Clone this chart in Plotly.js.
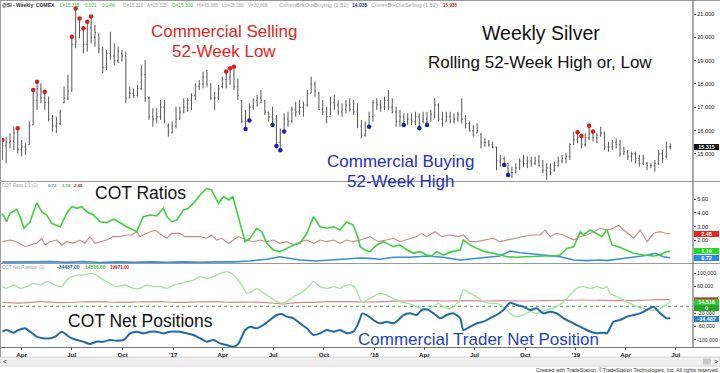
<!DOCTYPE html>
<html><head><meta charset="utf-8">
<script src="https://cdn.plot.ly/plotly-3.0.1.min.js"></script>
<style>html,body{margin:0;padding:0;background:#fff}#chart{width:720px;height:373px}</style>
</head><body><div id="chart"></div>
<script>
// ---------- DATA ----------
const startWeek = [2016, 1, 26]; // first weekly bar (Fri 26 Feb 2016)

const barHigh = [
15.60,15.74,15.89,16.17,16.10,15.60,15.46,16.39,17.74,18.10,
18.03,17.67,17.46,16.67,16.60,16.89,17.89,18.39,20.03,21.24,
20.81,20.39,20.67,20.89,20.53,20.17,19.60,19.46,20.24,19.74,
19.60,19.46,19.39,17.89,17.81,17.96,18.81,19.03,17.46,16.96,
16.96,17.31,17.31,16.31,16.39,17.03,17.03,17.39,17.39,17.60,
18.03,18.17,18.53,18.60,18.03,17.67,17.96,18.31,18.53,18.67,
18.74,18.24,17.31,16.89,17.17,17.39,17.53,17.74,17.31,16.81,
17.03,16.67,16.10,16.74,16.81,17.03,17.24,17.31,17.24,17.74,
18.31,18.10,17.67,17.31,17.03,17.46,17.53,17.31,17.17,17.31,
17.39,17.31,17.17,16.46,16.39,16.81,17.31,17.39,17.31,17.46,
17.74,17.39,17.03,16.89,16.74,16.74,16.74,16.81,16.74,16.81,
16.81,16.89,17.39,17.17,16.81,16.81,16.81,16.74,16.81,17.39,
16.67,16.39,16.24,16.31,15.89,15.67,15.60,15.53,15.31,14.96,
14.89,14.60,14.46,14.60,14.81,14.96,14.89,14.89,14.89,14.96,
14.74,14.60,14.60,14.67,14.89,14.96,15.03,15.46,15.96,15.93,
15.77,15.89,16.21,15.96,15.89,16.17,15.96,15.53,15.60,15.67,
15.60,15.31,15.17,15.10,15.10,14.96,14.96,14.67,14.60,14.74,
15.17,15.17,15.53,15.45];
const barLow = [
14.74,14.60,15.24,15.17,15.03,14.89,14.96,15.39,16.24,16.89,
17.17,16.89,16.39,15.96,15.89,16.24,17.17,17.31,17.67,19.53,
19.96,19.31,19.39,19.74,19.60,19.31,18.46,18.60,19.03,18.81,
18.89,18.96,17.17,17.39,17.39,17.46,17.74,17.24,16.46,16.17,
16.31,16.46,16.31,15.74,15.89,16.10,16.46,16.74,16.81,16.89,
17.31,17.74,17.81,17.89,17.31,16.89,17.31,17.81,17.81,17.96,
17.74,17.31,16.31,16.07,16.43,16.89,17.03,17.17,16.67,16.39,
16.24,15.34,15.16,15.96,16.17,16.31,16.60,16.67,16.60,17.03,
17.60,17.46,16.89,16.67,16.31,16.67,16.89,16.67,16.60,16.74,
16.81,16.67,16.10,15.67,15.74,16.17,16.39,16.89,16.81,16.89,
16.89,16.74,16.17,16.17,16.24,16.24,16.24,16.24,16.10,16.31,
16.24,16.39,16.53,16.39,16.17,16.39,16.31,16.31,16.39,16.31,
16.10,15.96,15.74,15.89,15.24,15.31,15.31,15.24,14.31,14.46,
14.53,14.10,13.96,14.17,14.31,14.46,14.39,14.46,14.53,14.46,
14.17,13.89,14.10,14.24,14.46,14.60,14.60,14.74,15.39,15.46,
15.24,15.31,15.60,15.53,15.46,15.74,15.17,15.10,15.17,15.24,
14.89,14.96,14.74,14.67,14.60,14.46,14.53,14.31,14.39,14.24,
14.53,14.60,14.81,15.20];
const barOpen = [
14.90,15.35,15.50,15.55,15.90,15.20,15.30,15.40,16.25,17.30,
17.80,17.40,17.20,16.50,16.20,16.30,17.20,17.40,17.70,19.70,
20.00,20.30,19.70,20.40,20.00,20.10,19.50,18.70,19.30,19.20,
19.00,19.30,19.20,17.40,17.60,17.50,17.80,18.40,17.40,16.60,
16.50,16.60,17.00,16.20,15.90,16.20,16.50,16.80,17.00,17.30,
17.50,17.90,18.00,18.30,18.00,17.40,17.40,17.90,18.20,18.30,
18.40,17.90,17.30,16.40,16.50,17.00,17.30,17.40,17.30,16.80,
16.60,16.50,15.50,16.00,16.50,16.40,16.90,16.80,17.00,17.10,
17.60,18.00,17.60,16.90,16.80,16.60,17.20,17.10,16.80,16.90,
17.10,16.90,16.80,16.20,15.80,16.20,16.60,17.20,17.10,17.00,
17.30,17.00,16.80,16.40,16.60,16.40,16.50,16.40,16.60,16.40,
16.50,16.40,16.70,17.10,16.50,16.40,16.60,16.40,16.50,16.70,
16.50,16.30,16.00,15.90,15.85,15.50,15.50,15.40,15.30,14.70,
14.80,14.60,14.20,14.20,14.40,14.70,14.60,14.70,14.60,14.70,
14.50,14.30,14.40,14.30,14.50,14.70,14.80,14.90,15.40,15.60,
15.70,15.40,15.70,15.90,15.70,15.80,15.90,15.30,15.30,15.50,
15.40,15.00,15.10,14.90,15.00,14.80,14.60,14.60,14.50,14.50,
14.60,15.00,14.90,15.31];
const barClose = [
15.35,15.50,15.55,15.90,15.20,15.30,15.20,16.20,17.30,17.80,
17.40,17.20,16.50,16.20,16.30,16.80,17.40,17.70,19.70,19.80,
20.30,19.70,20.40,20.00,20.20,19.50,18.70,19.30,19.20,19.00,
19.40,19.20,17.40,17.60,17.50,17.80,18.40,17.40,16.60,16.50,
16.60,17.00,16.40,15.90,16.20,16.50,16.80,17.00,17.30,17.50,
17.90,18.00,18.30,18.00,17.40,17.40,17.80,18.20,18.40,18.50,
17.90,17.50,16.40,16.40,17.00,17.30,17.40,17.30,16.80,16.60,
16.50,15.50,15.90,16.50,16.40,16.90,16.80,17.00,17.10,17.60,
18.00,17.70,16.90,16.80,16.60,17.20,17.10,16.80,16.90,17.10,
16.90,16.80,16.20,15.80,16.00,16.60,17.20,17.10,17.00,17.30,
17.00,16.80,16.40,16.60,16.40,16.50,16.40,16.60,16.30,16.50,
16.40,16.70,17.10,16.50,16.30,16.60,16.40,16.50,16.70,16.50,
16.30,16.00,15.80,16.00,15.50,15.50,15.40,15.30,14.70,14.80,
14.60,14.20,14.20,14.40,14.70,14.60,14.70,14.60,14.70,14.50,
14.30,14.40,14.20,14.50,14.70,14.80,14.90,15.40,15.60,15.70,
15.40,15.70,15.90,15.70,15.80,15.90,15.30,15.30,15.50,15.40,
15.00,15.10,14.90,15.00,14.80,14.60,14.80,14.50,14.50,14.60,
15.00,14.80,15.30,15.315];

// bars flagged by the breakout studies
const sellingLowIdx = [0,4,8,9,11,18,19,20,21,22,23,58,59,60,149,150,152,153];
const buyingHighIdx = [63,64,70,71,72,73,95,104,108,110,130,131];

// COT ratio lines (x = week number from first bar)
const ratioGreenWk = [0,1.1,2,3.7,4.6,5.6,7.2,8.9,10.2,11.5,12.8,13.7,15,16.7,18,19.3,20.6,21.9,23.6,25.3,27,28.8,30.1,32.2,33.9,34.8,36.5,38.3,40,41.7,42.6,43.9,45.2,46.9,48.2,49.9,51.2,52.9,54.2,56,57.3,58.6,59.7,61.2,62.9,64.2,65.9,67.2,68.5,70.2,71.9,73.7,75.4,77.1,78.9,80.6,82.3,84,85.8,87.5,89.2,90.9,92.2,92.7,93.9,95.2,97,98.7,100.4,101.3,103,104.8,106.5,108.2,109.9,111.2,112.5,114.3,116.4,118.6,119.4,121.2,122.9,125,127.2,128.9,130.7,133.2,135.8,137.6,140.1,142.7,144.5,146.2,148,149.7,150.5,152.3,154,155.3,156.6,157.9,159.6,161.8,163.5,166.1,168.7,170.4,172.1,173];
const ratioGreen = [3.98,3.36,3.98,4.27,3.73,2.88,3.36,4.75,4.09,3.85,3.24,3.12,2.99,3.98,4.46,4.34,4.46,4.09,3.85,3.36,3.29,3.54,3.36,2.99,2.75,2.63,3.73,3.85,3.78,4.34,3.73,3.36,3.48,4.22,4.34,4.83,5.31,5.80,5.68,4.71,5.19,4.95,5.19,3.61,1.90,2.15,2.88,2.63,1.78,1.29,1.17,1.41,1.66,1.78,2.51,3.73,2.99,2.88,2.99,2.75,3.36,3.12,2.15,1.53,1.29,1.17,1.66,1.90,1.66,1.53,1.66,1.29,1.05,1.17,0.92,0.85,1.17,0.92,1.17,1.29,2.02,1.66,1.41,1.17,1.05,0.92,0.80,0.76,0.80,0.85,0.85,0.85,0.92,1.41,1.53,2.63,2.39,2.75,2.51,2.27,2.80,1.66,1.53,1.29,1.05,0.92,0.85,0.92,1.17,1.19];
const ratioPinkWk = [0,2,3.7,5.9,7.2,8.9,10.2,11.1,12.4,14.1,15.4,16.7,18.4,20.1,21.4,22.7,24,25.3,27,28.8,30.5,32.2,33.5,34.8,35.7,37.4,39.6,41.3,42.6,43.9,46,47.3,49.1,51.2,52.9,54.2,55.5,56.8,58.6,59.9,61.2,63.3,65,66.8,68.5,70.2,71.9,73.7,75.4,77.1,78.9,80.6,82.3,84,85.8,87.5,89.2,90.9,92.7,95.2,97.4,99.5,101.3,103,105.6,107.3,108.6,109.9,112.1,113.8,115.9,118.1,119.4,121.2,122.9,125.5,127.2,128.9,130.7,133.2,135,136.7,139.3,140.6,141.9,143.6,145.4,148,149.7,151.4,153.1,154.9,156.6,158.3,159.6,160.9,162.6,163.5,165.2,167,168.7,170.4,171.7,173];
const ratioPink = [1.90,2.02,1.90,1.53,1.66,1.78,2.15,1.66,1.90,2.02,1.66,1.90,1.78,2.02,1.78,2.27,1.78,1.90,2.02,2.27,2.27,2.39,2.39,2.63,2.27,2.51,2.75,2.39,2.15,2.51,2.51,2.27,2.27,2.27,2.15,2.39,2.02,2.15,1.78,2.02,2.27,2.02,1.90,2.02,1.90,2.02,1.78,1.90,1.66,1.90,2.02,1.78,2.02,1.90,2.02,1.78,2.02,1.90,2.02,2.27,1.90,2.02,2.15,1.90,2.15,2.27,2.51,2.27,2.63,2.27,2.39,2.27,2.39,1.90,1.90,2.02,2.15,1.90,2.02,2.15,2.27,2.39,2.39,2.75,2.27,2.51,2.39,2.02,2.27,2.39,2.63,2.88,2.75,2.88,3.12,2.75,2.39,2.15,2.75,1.90,2.51,2.63,2.51,2.48];
const ratioBlueWk = [0,4.6,8,12.4,16.7,21,25.3,29.6,33.9,38.3,42.6,46.9,51.2,55.5,59.9,64.2,68.5,71.9,74.5,77.1,81.4,85.8,90.1,92.7,95.2,97.8,101.3,105.6,109.9,114.2,118.6,122.9,127.2,128.9,131.5,134.1,137.6,141,144.5,148,151.4,154.9,156.6,159.2,161.8,164.3,166.9,169.1,171.2,173];
const ratioBlue = [0.40,0.44,0.42,0.44,0.39,0.44,0.38,0.42,0.39,0.42,0.39,0.42,0.39,0.42,0.42,0.49,0.61,0.80,0.68,0.56,0.49,0.56,0.61,0.70,0.68,0.61,0.76,0.76,0.85,0.76,0.56,0.68,0.76,0.85,1.22,1.09,1.00,0.90,0.80,0.56,0.51,0.56,0.51,0.61,0.68,0.80,0.90,1.05,0.80,0.72];

// COT net position lines
const netGreenWk = [0,1.1,2.9,4.6,6.3,8,9.8,11.5,13.7,15.4,16.7,18,19.3,21,22.7,24.4,26.2,27.9,29.6,31.8,33.9,35.7,37.4,39.1,40.9,42.6,44.3,46,47.8,49.5,51.2,52.9,54.7,56.4,58.1,59.4,60.7,62,63.3,64.6,65.9,67.2,68.5,69.8,71.1,72.4,73.7,75.4,77.1,78.9,80.6,82.3,84,85.8,87.5,89.2,90.5,91.8,92.7,93.5,94.4,96.1,97.8,99.6,101.3,103,104.8,106.5,108.2,109.9,111.7,113,114.2,116,117.7,118.6,119.4,121.2,122.9,124.6,126.3,128,129.8,131.5,133.2,134.9,136.7,138.4,141,143.6,145.4,147.1,148.8,150.5,152.3,154,155.7,156.6,157.4,159.2,160.9,162.6,164.3,166.1,167.8,169.5,171.2,172.5,173];
const netGreen = [59000,54000,64000,54000,59000,69000,64000,74000,64000,59000,79000,89000,94000,94000,99000,94000,79000,69000,59000,64000,54000,54000,64000,59000,59000,54000,64000,69000,74000,79000,89000,84000,89000,99000,104000,99000,84000,64000,39000,44000,54000,44000,34000,24000,14000,9000,14000,29000,39000,54000,74000,59000,54000,59000,54000,64000,64000,49000,20000,12000,19000,29000,39000,34000,24000,14000,9000,4000,-6000,-11000,-1000,9000,-1000,-6000,9000,24000,49000,39000,29000,14000,9000,9000,-1000,-21000,-31000,-26000,-16000,-21000,-11000,-1000,14000,34000,54000,59000,54000,59000,54000,59000,39000,29000,19000,9000,-1000,-6000,-11000,-11000,-1000,9000,14516];
const netPinkWk = [0,5,10,15,20,25,30,35,40,45,50,55,60,65,70,73,76,80,85,90,95,100,105,110,115,120,125,130,135,140,145,150,155,160,165,170,173];
const netPink = [12000,10000,14000,11000,13000,14000,12000,13000,14000,12000,13000,14000,12000,13000,10000,7000,11000,12000,14000,14000,13000,15000,16000,17000,16000,17000,16000,17000,16000,17000,18000,19000,18000,17000,18000,20000,19971];
const netBlueWk = [0,1.1,2.9,4.2,5.9,7.2,8.9,10.6,12.4,13.7,15.4,17.5,19.3,21,22.7,24.4,26.2,27.9,29.6,31.4,33.1,34.8,36.5,38.3,40,41.7,43.4,46,47.8,49.5,51.2,52.9,54.7,56.4,58.1,59.9,61.2,62.9,64.2,65.9,67.6,69.3,71.1,72.4,73.7,75.4,77.1,78.9,80.6,82.3,84,85.8,87.5,89.2,90.9,92.2,92.7,93.2,94.4,96.1,97.8,99.6,101.3,102.6,103.9,105.6,107.3,108.6,109.9,111.7,113.4,115.1,116.8,118.6,119.4,121.2,122.9,124.6,126.3,128,129.8,131.5,133.2,134.9,136.7,138.4,140.1,141.9,143.6,145.4,147.1,148.8,150.5,152.3,154,155.7,156.6,158.3,160,161.8,163.5,165.2,166.9,168.7,170.4,172.1,173];
const netBlue = [-76000,-71000,-79000,-71000,-66000,-76000,-91000,-96000,-96000,-91000,-76000,-93000,-101000,-106000,-113000,-106000,-106000,-101000,-103000,-101000,-81000,-76000,-81000,-76000,-76000,-81000,-76000,-76000,-81000,-86000,-96000,-106000,-101000,-111000,-116000,-121000,-111000,-71000,-61000,-66000,-56000,-41000,-26000,-23000,-31000,-36000,-51000,-66000,-86000,-81000,-71000,-76000,-71000,-81000,-76000,-51000,-35000,-22000,-26000,-41000,-51000,-46000,-51000,-41000,-26000,-21000,-26000,-11000,-9000,-21000,-36000,-26000,-21000,-36000,-71000,-61000,-51000,-46000,-36000,-26000,-11000,11000,4000,-1000,-11000,-6000,-21000,-16000,-21000,-36000,-46000,-56000,-66000,-76000,-81000,-79000,-81000,-46000,-41000,-31000,-26000,-21000,-11000,-1000,-21000,-36000,-34487];

// axis tick labels
const xTickVals = ['2016-04-01','2016-07-01','2016-10-01','2017-01-01','2017-04-01','2017-07-01','2017-10-01','2018-01-01','2018-04-01','2018-07-01','2018-10-01','2019-01-01','2019-04-01','2019-07-01'];
const xTickText = ['Apr','Jul','Oct',"'17",'Apr','Jul','Oct',"'18",'Apr','Jul','Oct',"'19",'Apr','Jul'];
const priceTicks = [15,16,17,18,19,20,21];
const ratioTicks = [2,3,4,5];
const netTicks = [100000,60000,-20000,-60000,-100000];
const netTickText = ['100,000','60,000','-20,000','-60,000','-100,000'];

// last values shown on the right scale
const lastPrice = 15.315, lastPriceText = '15.315';
const lastRatios = [[2.48,'2.48','#e42323'],[1.19,'1.19','#25d825'],[0.72,'0.72','#2a8ae0']];
const lastNetGreen = [14516, '14,516'], lastNetZero = [0, '0'], lastNetBlue = [-34487, '-34,487'], lastNetPink = 19971;

// ---------- helpers ----------
const DAY = 86400000;
const T0 = Date.UTC(startWeek[0], startWeek[1], startWeek[2]);
function wkDate(w){
  const d = new Date(T0 + w*7*DAY);
  const p = n => String(n).padStart(2,'0');
  return d.getUTCFullYear()+'-'+p(d.getUTCMonth()+1)+'-'+p(d.getUTCDate())+' '+p(d.getUTCHours())+':'+p(d.getUTCMinutes());
}
const barDates = barHigh.map((_, i) => wkDate(i));

const W = 720, H = 373, ML = 2, MR = 27, PW = W - ML - MR;
const px = x => (x - ML) / PW;
const py = y => (H - y) / H;
const FONT = 'Liberation Sans, Arial, Helvetica, sans-serif';

// ---------- traces ----------
const traces = [
  {type:'ohlc', x:barDates, open:barOpen, high:barHigh, low:barLow, close:barClose,
   xaxis:'x', yaxis:'y', tickwidth:0.25, hoverinfo:'skip',
   increasing:{line:{color:'#555', width:1}}, decreasing:{line:{color:'#555', width:1}}},
  {type:'scatter', mode:'markers', x:sellingLowIdx.map(i => barDates[i]), y:sellingLowIdx.map(i => barHigh[i]),
   xaxis:'x', yaxis:'y', marker:{color:'#d61f1f', size:4.5}, hoverinfo:'skip'},
  {type:'scatter', mode:'markers', x:buyingHighIdx.map(i => barDates[i]), y:buyingHighIdx.map(i => barLow[i]),
   xaxis:'x', yaxis:'y', marker:{color:'#1d23a8', size:4.5}, hoverinfo:'skip'},

  {type:'scatter', mode:'lines', x:ratioPinkWk.map(wkDate), y:ratioPink, xaxis:'x', yaxis:'y2',
   line:{color:'#c98888', width:1.1}, hoverinfo:'skip'},
  {type:'scatter', mode:'lines', x:ratioBlueWk.map(wkDate), y:ratioBlue, xaxis:'x', yaxis:'y2',
   line:{color:'#3a8ddb', width:1.6}, hoverinfo:'skip'},
  {type:'scatter', mode:'lines', x:ratioGreenWk.map(wkDate), y:ratioGreen, xaxis:'x', yaxis:'y2',
   line:{color:'#3fd03f', width:1.6}, hoverinfo:'skip'},

  {type:'scatter', mode:'lines', x:netPinkWk.map(wkDate), y:netPink, xaxis:'x', yaxis:'y3',
   line:{color:'#cf8a8a', width:1.2, shape:'spline', smoothing:0.6}, hoverinfo:'skip'},
  {type:'scatter', mode:'lines', x:netGreenWk.map(wkDate), y:netGreen, xaxis:'x', yaxis:'y3',
   line:{color:'#9fe49f', width:1.3, shape:'spline', smoothing:0.6}, hoverinfo:'skip'},
  {type:'scatter', mode:'lines', x:netBlueWk.map(wkDate), y:netBlue, xaxis:'x', yaxis:'y3',
   line:{color:'#1f6aa6', width:2, shape:'spline', smoothing:0.6}, hoverinfo:'skip'}
];

// ---------- annotations ----------
const ann = [];
function txt(text, x, y, size, color, xanchor){
  ann.push({text:text, x:px(x), y:py(y), xref:'paper', yref:'paper', showarrow:false,
    xanchor:xanchor||'center', yanchor:'middle', borderpad:0, borderwidth:0,
    font:{family:FONT, size:size, color:color}});
}
txt('Commercial Selling', 224, 31.5, 17, '#e2261c');
txt('52-Week Low', 224, 52, 17, '#e2261c');
txt('Weekly Silver', 541, 33, 19.5, '#111');
txt('Rolling 52-Week High or, Low', 540, 62, 17, '#111');
txt('Commercial Buying', 400, 162, 17, '#1f2fc4');
txt('52-Week High', 400, 181.5, 17, '#1f2fc4');
txt('COT Ratios', 140, 193, 17.5, '#111');
txt('COT Net Positions', 140, 321, 17.5, '#111');
txt('Commercial Trader Net Position', 478, 339, 17, '#1f3fc8');

// header strips: [text, left x, centre y, size, colour]
const GRN = '#2dbb2d', GRY = '#9a9a9a', RED = '#c42222';
const hdr = [
  ['<b>@SI - Weekly  COMEX</b>', 2, 5, 5.0, '#333'], ['L=15.315', 60, 5, 4.6, GRN], ['0.021', 85, 5, 4.6, GRN], ['0.14%', 102, 5, 4.6, GRN],
  ['O=15.310', 123, 5, 4.6, GRY], ['A=15.315', 147, 5, 4.6, GRY], ['D=15.300', 172, 5, 4.8, GRN], ['Hi=15.385', 197, 5, 4.6, GRY],
  ['Lo=15.260', 222, 5, 4.6, GRY], ['V=20,806', 248, 5, 4.6, GRY], ['CommBrkOutBuying (1,52)', 279, 5, 5.8, GRY],
  ['<b>14.035</b>', 352, 5, 5.0, '#1d2a9c'], ['CommBrkOutSelling (1,52)', 371, 5, 5.6, GRY], ['<b>15.935</b>', 443, 5, 4.6, RED],
  ['COT Ratio 1.1 (1)', 2, 185, 4.5, GRY], ['<b>0.72</b>', 48, 185, 4.3, '#3a8ddb'], ['<b>1.19</b>', 62, 185, 4.3, GRN], ['<b>2.48</b>', 74, 185, 4.3, RED],
  ['COT Net Position (1)', 2, 267, 4.6, GRY], ['<b>-34487.00</b>', 57, 267, 5.0, '#1f6aa6'], ['<b>14516.00</b>', 85, 267, 4.9, GRN], ['<b>19971.00</b>', 110, 267, 4.6, RED]
];
hdr.forEach(h => txt(h[0], h[1], h[2], h[3], h[4], 'left'));

txt('Created with TradeStation. \u00A9TradeStation Technologies, Inc. All rights reserved.', 719, 369.5, 5.2, '#333', 'right');
txt('<', 3, 361.5, 7, '#333', 'left');
txt('>', 716, 361.5, 7, '#333', 'center');

// right-scale value boxes
function box(text, yval, yref, bg, yshift){
  ann.push({text:'<b>'+text+'</b>', x:px(694), xref:'paper', y:yval, yref:yref, xanchor:'left', yanchor:'middle',
    yshift:yshift||0, showarrow:false, bgcolor:bg, width:24, height:5, align:'center', borderpad:0.5, borderwidth:0,
    font:{family:FONT, size:5.4, color:'#fff'}});
}
box(lastPriceText, lastPrice, 'y', '#111');
lastRatios.forEach(r => box(r[1], r[0], 'y2', r[2]));
box(lastNetGreen[1], lastNetGreen[0], 'y3', '#37c837');
box(lastNetZero[1], lastNetZero[0], 'y3', '#25a825', -1.5);
box(lastNetBlue[1], lastNetBlue[0], 'y3', '#2a7fc4', -1);

// ---------- shapes ----------
function pline(x0,y0,x1,y1,color,width,dash){
  return {type:'line', xref:'paper', yref:'paper', x0:px(x0), y0:py(y0), x1:px(x1), y1:py(y1),
    line:{color:color, width:width||1, dash:dash||'solid'}, layer:'above'};
}
const shapes = [
  {type:'rect', xref:'paper', yref:'paper', x0:px(0), x1:px(720), y0:py(357), y1:py(366), fillcolor:'#efefef', line:{color:'#d4d4d4', width:1}, layer:'below'},
  {type:'rect', xref:'paper', yref:'paper', x0:px(703), x1:px(711), y0:py(358.5), y1:py(364.5), fillcolor:'#c9c9c9', line:{width:0}, layer:'below'},
  // hidden pink last-value box: only a red strip shows above the green one
  {type:'rect', xref:'paper', x0:px(694), x1:px(718), yref:'y3', y0:lastNetPink - 3000, y1:lastNetPink + 7000, fillcolor:'#e42323', line:{width:0}, layer:'above'},
  pline(0,0.5,720,0.5,'#9a9a9a',1),
  pline(0.5,0,0.5,357,'#9a9a9a',1),
  pline(0,181.5,720,181.5,'#9a9a9a',1),
  pline(0,263.5,720,263.5,'#9a9a9a',1),
  pline(0,347.5,720,347.5,'#777',1),
  pline(693,0,693,347.5,'#555',1),
  {type:'line', xref:'paper', x0:0, x1:1, yref:'y3', y0:0, y1:0, line:{color:'#3fae3f', width:1, dash:'dot'}, layer:'below'}
];

// ---------- layout ----------
const yBase = {side:'right', anchor:'x', showgrid:false, zeroline:false, showline:false,
  ticks:'outside', ticklen:2, tickcolor:'#444', tickfont:{family:FONT, size:5.7, color:'#222'}, fixedrange:true};
const layout = {
  width:W, height:H, margin:{l:ML, r:MR, t:0, b:0, pad:0}, autosize:false,
  paper_bgcolor:'#fff', plot_bgcolor:'#fff', showlegend:false, hovermode:false,
  font:{family:FONT, size:6, color:'#222'},
  xaxis:{type:'date', anchor:'y3', range:[wkDate(-0.08), wkDate(178.9)], showgrid:false, zeroline:false, showline:false,
    tickvals:xTickVals, ticktext:xTickText, ticks:'outside', ticklen:2, tickcolor:'#555',
    tickfont:{family:FONT, size:6.2, color:'#222', weight:'bold'}, rangeslider:{visible:false}, fixedrange:true},
  yaxis:Object.assign({}, yBase, {domain:[py(181), py(1)], range:[13.842, 21.557], tickvals:priceTicks, tickformat:'.3f'}),
  yaxis2:Object.assign({}, yBase, {domain:[py(263), py(182)], range:[0.339, 6.265], tickvals:ratioTicks, tickformat:'.2f'}),
  yaxis3:Object.assign({}, yBase, {domain:[py(347), py(264)], range:[-121950, 127050], tickvals:netTicks, ticktext:netTickText, tickfont:{family:FONT, size:5.3, color:'#222'}}),
  annotations:ann, shapes:shapes
};

Plotly.newPlot('chart', traces, layout, {staticPlot:true, displayModeBar:false});
</script>
</body></html>
